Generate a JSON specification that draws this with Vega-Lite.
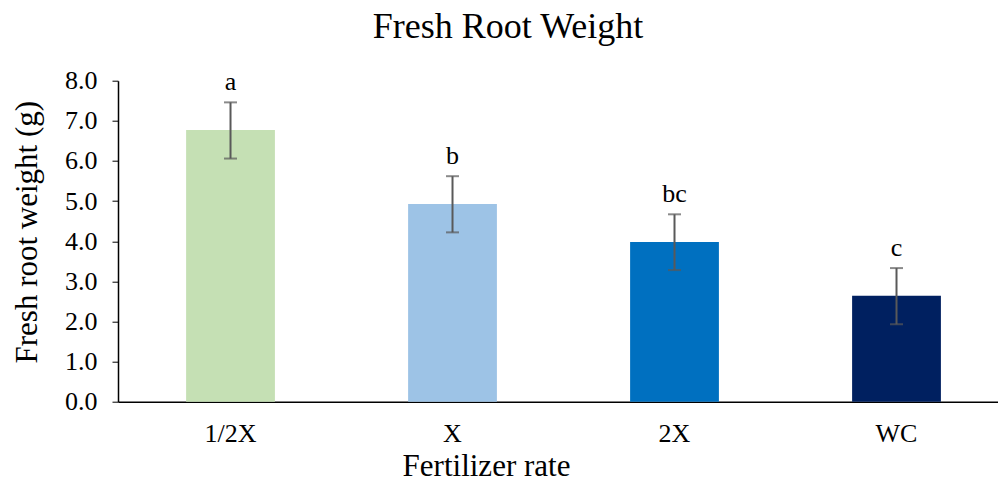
{
  "$schema": "https://vega.github.io/schema/vega-lite/v6.json",
  "width": 880,
  "height": 321,
  "autosize": {"type": "none"},
  "padding": {"left": 118, "top": 80.7, "right": 0, "bottom": 89.3},
  "background": "white",
  "title": {
    "text": "Fresh Root Weight",
    "font": "Liberation Serif",
    "fontSize": 36,
    "fontWeight": "normal",
    "color": "black",
    "anchor": "middle",
    "dx": -50,
    "baseline": "alphabetic",
    "offset": -6
  },
  "data": {
    "values": [
      {"rate": "1/2X", "mean": 6.77, "lo": 6.06, "hi": 7.46, "letter": "a"},
      {"rate": "X", "mean": 4.93, "lo": 4.22, "hi": 5.62, "letter": "b"},
      {"rate": "2X", "mean": 3.98, "lo": 3.28, "hi": 4.67, "letter": "bc"},
      {"rate": "WC", "mean": 2.64, "lo": 1.93, "hi": 3.33, "letter": "c"}
    ]
  },
  "encoding": {
    "x": {
      "field": "rate",
      "type": "nominal",
      "sort": ["1/2X", "X", "2X", "WC"],
      "scale": {"paddingInner": 0.6, "paddingOuter": 0.282, "align": 0.544},
      "axis": {
        "title": "Fertilizer rate",
        "titleFont": "Liberation Serif",
        "titleFontSize": 31,
        "titleFontWeight": "normal",
        "titleColor": "black",
        "titleBaseline": "alphabetic",
        "titleAlign": "center",
        "titleX": 368,
        "titleY": 73.3,
        "labelAngle": 0,
        "labelFont": "Liberation Serif",
        "labelFontSize": 26,
        "labelColor": "black",
        "labelBaseline": "alphabetic",
        "labelPadding": 40,
        "ticks": false,
        "domainColor": "black",
        "domainWidth": 1.5
      }
    }
  },
  "layer": [
    {
      "mark": {"type": "bar"},
      "encoding": {
        "y": {
          "field": "mean",
          "type": "quantitative",
          "scale": {"domain": [0, 8], "nice": false},
          "axis": {
            "title": "Fresh root weight (g)",
            "titleFont": "Liberation Serif",
            "titleFontSize": 31,
            "titleFontWeight": "normal",
            "titleColor": "black",
            "titleAngle": -90,
            "titleBaseline": "alphabetic",
            "titleAlign": "center",
            "titleX": -82,
            "titleY": 151,
            "values": [0, 1, 2, 3, 4, 5, 6, 7, 8],
            "format": ".1f",
            "labelFont": "Liberation Serif",
            "labelFontSize": 26,
            "labelColor": "black",
            "labelPadding": 15,
            "tickSize": 6,
            "tickColor": "black",
            "domainColor": "black",
            "domainWidth": 1.5,
            "grid": false
          }
        },
        "color": {
          "field": "rate",
          "type": "nominal",
          "scale": {"domain": ["1/2X", "X", "2X", "WC"], "range": ["#C5E0B4", "#9DC3E6", "#0070C0", "#002060"]},
          "legend": null
        }
      }
    },
    {
      "mark": {"type": "rule", "color": "#595959", "strokeWidth": 2},
      "encoding": {
        "y": {"field": "lo", "type": "quantitative"},
        "y2": {"field": "hi"}
      }
    },
    {
      "mark": {"type": "tick", "color": "#595959", "size": 13, "thickness": 2},
      "encoding": {"y": {"field": "lo", "type": "quantitative"}}
    },
    {
      "mark": {"type": "tick", "color": "#595959", "size": 13, "thickness": 2},
      "encoding": {"y": {"field": "hi", "type": "quantitative"}}
    },
    {
      "mark": {"type": "text", "font": "Liberation Serif", "fontSize": 26, "color": "black", "baseline": "alphabetic", "dy": -12},
      "encoding": {
        "y": {"field": "hi", "type": "quantitative"},
        "text": {"field": "letter"}
      }
    }
  ],
  "config": {"view": {"stroke": null}}
}
